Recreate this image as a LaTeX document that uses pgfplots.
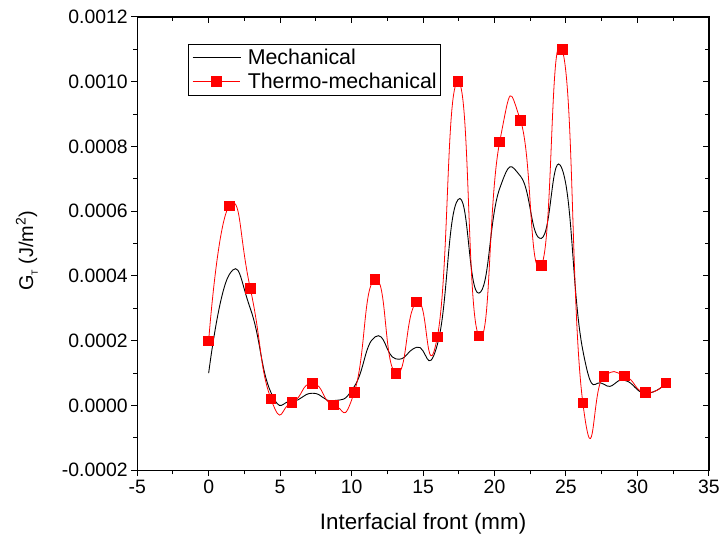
\documentclass[border=0pt]{standalone}
\usepackage{fontspec}
\setmainfont{Liberation Sans}
\usepackage{pgfplots}
\pgfplotsset{compat=1.18}

\pgfplotstableread{
x       mech      thermo
0.00    0.000100  0.000200
1.45    0.000405  0.000617
2.91    0.000300  0.000362
4.36    0.000040  0.000020
5.82    0.000014  0.000010
7.27    0.000038  0.000068
8.73    0.000015  0.000002
10.18   0.000058  0.000040
11.64   0.000212  0.000390
13.09   0.000144  0.000100
14.55   0.000180  0.000320
16.00   0.000188  0.000212
17.45   0.000636  0.001000
18.91   0.000347  0.000215
20.36   0.000670  0.000814
21.82   0.000708  0.000880
23.27   0.000516  0.000432
24.73   0.000730  0.001100
26.18   0.000170  0.000008
27.64   0.000066  0.000090
29.09   0.000078  0.000092
30.55   0.000038  0.000040
32.00   0.000068  0.000070
}\datatable

\begin{document}
\begin{tikzpicture}
\begin{axis}[
    scale only axis,
    width=575pt, height=456pt,
    xmin=-5, xmax=35,
    ymin=-0.0002, ymax=0.0012,
    xtick={-5,0,5,10,15,20,25,30,35},
    ytick={-0.0002,0,0.0002,0.0004,0.0006,0.0008,0.0010,0.0012},
    minor x tick num=1,
    minor y tick num=1,
    tick align=outside,
    xtick pos=left, ytick pos=left,
    major tick length=6pt, minor tick length=4pt,
    every tick/.style={black, line width=1pt},
    axis line style={line width=1.3pt},
    scaled y ticks=false,
    yticklabel style={/pgf/number format/.cd, fixed, fixed zerofill, precision=4},
    /pgf/number format/assume math mode=true,
    tick label style={font=\fontsize{19.5}{22}\selectfont},
    xlabel={Interfacial front (mm)},
    ylabel={G\raisebox{-0.45ex}{\fontsize{9}{10}\selectfont T} (J/m\textsuperscript{2})},
    every axis x label/.style={at={(axis description cs:0.5,0)}, anchor=center,
        yshift=-54pt, font=\fontsize{22.5}{26}\selectfont},
    every axis y label/.style={at={(axis description cs:-0.193,0.484)},
        anchor=center, rotate=90, font=\fontsize{20}{24}\selectfont},
    legend style={at={(0.0887,0.9408)}, anchor=north west, draw=black,
        line width=0.6pt,
        font=\fontsize{21.5}{25}\selectfont, inner xsep=2pt, inner ysep=3pt,
        row sep=3pt},
    legend cell align=left,
    legend image code/.code={
        \draw[mark repeat=2, mark phase=2, #1]
            plot coordinates {(2pt,0pt) (26pt,0pt) (50pt,0pt)};
        \path (0pt,0pt) (55pt,0pt);
    },
]
\addplot[black, line width=0.9pt, smooth, tension=0.9, no markers]
    table[x=x, y=mech] {\datatable};
\addlegendentry{Mechanical}
\addplot[red, line width=0.8pt, smooth, tension=1, mark=square*,
    mark size=4.8pt, mark options={solid, fill=red, draw=red}]
    table[x=x, y=thermo] {\datatable};
\addlegendentry{Thermo-mechanical}
\coordinate (bl) at (rel axis cs:0,0);
\coordinate (tr) at (rel axis cs:1,1);
\end{axis}
\begin{axis}[
    scale only axis,
    width=575pt, height=456pt,
    xmin=-5, xmax=35,
    ymin=-0.0002, ymax=0.0012,
    xtick={-5,0,5,10,15,20,25,30,35},
    ytick={-0.0002,0,0.0002,0.0004,0.0006,0.0008,0.0010,0.0012},
    minor x tick num=1,
    minor y tick num=1,
    tick align=inside,
    xtick pos=right, ytick pos=right,
    major tick length=6pt, minor tick length=4pt,
    every tick/.style={black, line width=1pt},
    axis line style={line width=1.3pt},
    scaled y ticks=false, scaled x ticks=false,
    xticklabels={}, yticklabels={},
]
\end{axis}
\path ([xshift=-138pt,yshift=-73pt]bl) rectangle ([xshift=10pt,yshift=17pt]tr);
\end{tikzpicture}
\end{document}
